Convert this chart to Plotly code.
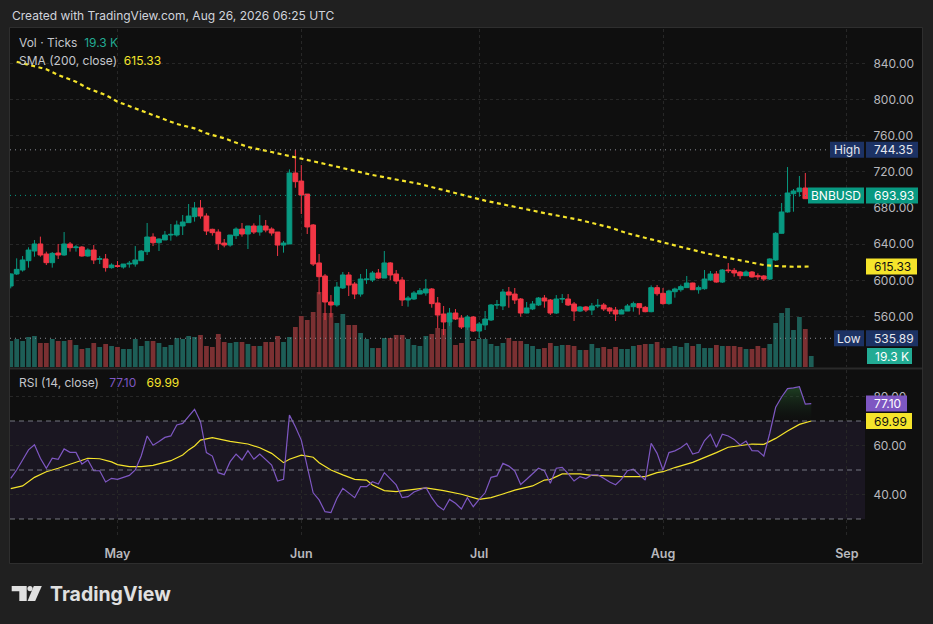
import numpy as np
import pandas as pd
import plotly.graph_objects as go

# ---------------- data ----------------
start_date = "2026-04-13"

opens = [593.7, 607.0, 611.4, 621.7, 632.4, 640.2, 629.1, 619.5, 630.2, 628.0,
         640.2, 636.1, 636.8, 626.9, 633.5, 623.2, 623.6, 614.0, 616.2, 614.7,
         618.0, 618.0, 621.7, 631.7, 647.9, 641.6, 644.6, 650.1, 650.1, 660.1,
         663.8, 670.4, 680.0, 671.1, 656.4, 653.4, 641.2, 639.0, 649.4, 656.7,
         651.2, 660.1, 653.4, 660.1, 656.7, 653.4, 639.0, 640.2, 718.7, 709.8,
         695.4, 661.2, 619.2, 604.8, 576.0, 572.7, 591.5, 605.9, 595.9, 584.8,
         600.7, 600.3, 608.1, 602.5, 619.2, 607.0, 600.3, 578.2, 579.3, 584.8,
         586.0, 590.4, 574.9, 562.7, 553.9, 563.8, 558.3, 548.3, 559.4, 543.9,
         550.6, 556.1, 572.7, 571.6, 587.1, 584.8, 579.3, 563.8, 568.3, 572.7,
         580.4, 578.2, 563.8, 579.3, 579.3, 573.8, 566.0, 570.5, 567.1, 571.6,
         572.7, 569.4, 567.1, 562.7, 566.0, 570.8, 574.2, 570.1, 565.3, 591.9,
         585.6, 574.2, 587.4, 589.6, 591.9, 597.0, 589.6, 590.7, 600.3, 607.0,
         598.1, 611.4, 611.0, 609.2, 605.1, 609.2, 605.1, 604.8, 601.4, 622.5,
         652.0, 675.6, 695.8, 698.0, 702.1, 690.3]
highs = [607.7, 624.3, 626.9, 636.5, 644.6, 648.3, 631.7, 631.3, 640.2, 653.4,
         642.4, 639.0, 637.9, 635.4, 639.0, 626.9, 629.1, 618.8, 621.4, 618.0,
         621.4, 637.9, 633.5, 663.4, 652.0, 646.4, 654.5, 662.3, 666.0, 672.2,
         684.4, 686.6, 688.8, 674.1, 657.1, 656.4, 645.7, 650.1, 658.6, 663.4,
         660.1, 663.0, 672.2, 666.7, 658.6, 653.4, 643.5, 722.7, 744.35, 727.5,
         695.4, 662.3, 629.1, 607.0, 583.7, 598.1, 609.2, 609.2, 598.1, 607.0,
         612.5, 610.3, 612.5, 632.4, 620.2, 611.4, 603.7, 582.6, 588.2, 591.5,
         601.4, 591.5, 581.5, 571.6, 569.4, 568.2, 561.6, 561.6, 560.5, 553.9,
         566.0, 573.8, 578.2, 590.4, 592.6, 591.5, 580.4, 576.0, 577.1, 581.5,
         583.7, 579.3, 583.7, 584.8, 584.8, 576.0, 571.6, 571.6, 574.9, 579.3,
         574.9, 570.5, 570.5, 568.3, 573.8, 576.4, 574.2, 571.6, 594.4, 594.8,
         591.5, 589.6, 591.9, 595.2, 604.8, 597.4, 594.1, 611.4, 610.3, 610.3,
         612.5, 619.1, 613.6, 610.3, 611.0, 610.3, 607.7, 605.9, 624.3, 653.4,
         685.5, 725.3, 701.0, 715.4, 718.7, 696.0]
lows = [591.1, 605.9, 609.6, 614.0, 626.1, 626.1, 616.9, 614.0, 623.6, 627.2,
        631.7, 631.7, 626.1, 626.1, 618.0, 618.0, 609.6, 612.9, 614.0, 612.9,
        614.0, 615.1, 621.4, 628.0, 637.9, 632.4, 644.6, 643.8, 648.3, 650.1,
        663.8, 664.9, 668.2, 650.1, 649.4, 633.5, 636.5, 637.2, 645.7, 648.3,
        634.6, 651.2, 649.4, 653.1, 649.4, 626.9, 630.6, 640.2, 702.4, 673.3,
        651.2, 615.8, 584.5, 556.1, 559.0, 570.8, 590.4, 582.6, 579.3, 581.9,
        596.0, 598.1, 601.4, 602.5, 600.3, 595.9, 571.6, 570.8, 578.2, 584.5,
        583.0, 569.7, 546.9, 539.5, 549.4, 556.1, 546.1, 545.0, 542.8, 535.89,
        545.0, 555.0, 568.2, 567.1, 569.7, 573.8, 559.8, 563.5, 567.1, 571.6,
        569.7, 561.6, 562.7, 574.9, 571.6, 555.0, 564.9, 564.9, 561.6, 569.4,
        566.0, 562.7, 555.0, 562.7, 566.0, 565.3, 562.0, 564.6, 564.6, 583.0,
        573.0, 573.0, 580.8, 587.4, 591.9, 589.3, 585.2, 589.6, 599.2, 597.4,
        597.0, 608.1, 604.0, 601.4, 605.1, 603.0, 600.3, 599.2, 600.3, 621.4,
        651.6, 674.9, 675.9, 692.5, 690.0, 688.5]
closes = [607.0, 612.1, 622.5, 633.5, 640.2, 628.0, 619.5, 629.8, 628.0, 640.2,
          636.1, 636.8, 626.9, 633.5, 622.5, 623.9, 614.0, 616.9, 615.4, 618.0,
          618.8, 622.5, 632.4, 647.9, 641.6, 645.7, 650.1, 650.8, 661.2, 664.5,
          671.1, 680.0, 671.1, 654.5, 652.7, 640.5, 639.0, 650.1, 656.7, 651.2,
          660.1, 653.4, 660.1, 655.6, 652.3, 639.0, 641.2, 718.7, 709.1, 694.3,
          659.0, 618.0, 604.0, 576.0, 572.7, 592.6, 605.9, 594.8, 584.8, 601.4,
          601.4, 608.1, 602.5, 619.2, 605.9, 599.2, 578.2, 580.4, 586.0, 588.5,
          590.4, 574.2, 561.6, 553.9, 563.8, 557.2, 548.3, 559.4, 543.9, 551.7,
          557.2, 572.7, 573.0, 587.1, 583.7, 578.2, 563.8, 569.4, 573.8, 580.4,
          577.1, 563.8, 579.3, 579.7, 572.7, 566.0, 570.5, 567.1, 571.6, 572.3,
          568.3, 566.0, 562.7, 567.1, 571.6, 574.2, 569.7, 565.3, 591.9, 585.2,
          574.2, 588.2, 590.4, 593.0, 597.0, 589.6, 591.9, 601.4, 607.0, 598.1,
          611.4, 610.7, 608.1, 605.1, 609.2, 603.7, 604.0, 601.4, 623.6, 652.0,
          675.6, 696.6, 698.8, 702.1, 690.3, 693.93]
volumes_k = [45.6, 49.1, 45.6, 52.7, 54.4, 42.1, 42.1, 49.1, 45.6, 45.6,
             47.4, 38.6, 31.6, 33.3, 42.1, 35.1, 40.4, 36.9, 35.1, 31.6,
             31.6, 49.1, 36.9, 45.6, 45.6, 42.1, 35.1, 38.6, 50.9, 49.1,
             54.4, 52.7, 56.2, 36.9, 35.1, 57.9, 43.9, 42.1, 43.9, 43.9,
             40.4, 36.9, 36.9, 43.9, 43.9, 54.4, 43.9, 52.7, 70.2, 89.5,
             82.5, 96.5, 131.6, 94.8, 94.8, 77.2, 93.0, 73.7, 73.7, 59.7,
             49.1, 33.3, 33.3, 50.9, 50.9, 56.2, 56.2, 49.1, 38.6, 36.9,
             54.4, 57.9, 68.4, 66.7, 79.0, 38.6, 42.1, 70.2, 45.6, 49.1,
             49.1, 40.4, 36.9, 42.1, 50.9, 45.6, 45.6, 40.4, 36.9, 31.6,
             33.3, 42.1, 36.9, 38.6, 38.6, 36.9, 29.8, 29.8, 40.4, 33.3,
             35.1, 31.6, 35.1, 31.6, 31.6, 36.9, 38.6, 40.4, 40.4, 43.9,
             33.3, 33.3, 36.9, 35.1, 42.1, 36.9, 40.4, 33.3, 33.3, 38.6,
             36.9, 36.9, 36.9, 35.1, 31.6, 31.6, 36.9, 33.3, 40.4, 77.2,
             94.8, 103.5, 64.9, 87.8, 66.7, 19.3]

sma_idx = [1, 3, 6, 8, 11, 13, 16, 18, 21, 23, 26, 28, 31, 33, 36, 40, 44, 48,
           53, 61, 66, 69, 80, 85, 90, 96, 101, 104, 108, 113, 117, 121, 125,
           127, 129, 132, 135]
sma_val = [841.8, 838.2, 833.4, 827.1, 819.7, 812.4, 805.0, 797.6, 790.3, 784.7,
           778.1, 772.9, 768.1, 762.6, 757.1, 747.5, 741.9, 736.4, 728.7, 716.5,
           709.8, 706.5, 688.1, 681.1, 674.4, 666.7, 658.6, 652.0, 645.4, 636.9,
           630.3, 624.8, 619.3, 616.9, 615.8, 615.0, 615.33]

rsi = [46.6, 50.0, 54.1, 58.2, 60.3, 54.8, 50.7, 54.8, 54.4, 58.6,
       57.2, 57.2, 52.4, 54.1, 49.7, 49.7, 45.1, 46.6, 46.2, 47.0,
       47.8, 50.0, 55.7, 63.9, 60.1, 61.6, 63.3, 63.9, 68.4, 69.0,
       71.8, 74.8, 69.7, 57.1, 55.7, 48.9, 48.1, 53.4, 56.5, 54.1,
       57.9, 54.4, 56.5, 54.1, 52.0, 45.5, 46.2, 72.4, 67.7, 62.2,
       51.4, 40.7, 37.8, 33.0, 32.6, 38.4, 42.5, 40.5, 38.7, 43.2,
       43.2, 45.2, 44.3, 48.9, 46.2, 43.9, 38.7, 39.1, 41.0, 41.8,
       42.9, 38.7, 35.4, 33.7, 38.0, 36.4, 34.1, 38.7, 35.0, 38.0,
       40.7, 47.0, 47.6, 52.7, 51.6, 49.6, 44.1, 46.2, 48.5, 50.7,
       49.7, 44.6, 50.7, 51.1, 48.5, 45.5, 47.3, 46.5, 48.0, 48.0,
       46.6, 45.1, 44.0, 46.3, 49.7, 50.3, 48.0, 45.9, 60.9, 56.8,
       50.0, 57.1, 57.8, 59.1, 60.9, 56.5, 57.2, 62.0, 64.6, 59.3,
       64.6, 63.9, 62.5, 60.2, 61.8, 57.9, 57.8, 55.7, 65.0, 75.6,
       79.8, 83.2, 83.5, 84.0, 76.9, 77.10]

rsi_ma_idx = [0, 2, 4, 6, 8, 10, 12, 13, 15, 17, 18, 20, 22, 24, 27, 29, 30, 31,
              32, 34, 37, 40, 42, 44, 46, 47, 49, 51, 52, 54, 56, 58, 60, 61, 63,
              65, 67, 70, 73, 76, 79, 81, 83, 85, 88, 90, 91, 93, 96, 98, 101,
              103, 107, 109, 110, 112, 115, 118, 119, 121, 123, 125, 127, 129,
              131, 133, 135]
rsi_ma_val = [42.4, 43.5, 47.0, 49.3, 50.7, 52.4, 54.1, 54.8, 54.6, 53.3, 52.2,
              51.4, 51.4, 51.9, 53.8, 56.1, 58.2, 59.8, 62.2, 63.2, 61.7, 60.6,
              59.1, 56.8, 53.0, 54.4, 56.1, 55.2, 53.0, 50.0, 48.0, 46.2, 45.9,
              43.9, 41.6, 41.2, 41.8, 42.7, 41.6, 40.1, 38.0, 38.7, 40.2, 41.8,
              43.5, 45.9, 46.2, 48.4, 48.4, 47.8, 47.6, 47.3, 47.3, 48.9, 49.3,
              51.0, 53.1, 56.0, 57.1, 59.3, 59.8, 60.6, 60.5, 62.9, 65.9, 68.6,
              69.99]

month_ticks = ["2026-05-01", "2026-06-01", "2026-07-01", "2026-08-01", "2026-09-01"]
month_labels = ["May", "Jun", "Jul", "Aug", "Sep"]
price_ticks = [560, 600, 640, 680, 720, 760, 800, 840]
rsi_ticks = [40, 60, 80]
rsi_levels = [30, 50, 70]

# ---------------- styling / geometry ----------------
W, H = 933, 624
ML, MR, MT, MB = 10, 68, 29, 87
PW, PH = W - ML - MR, H - MT - MB

def px_x(px):
    return (px - ML) / PW

def px_y(py):
    return (H - MB - py) / PH

TEAL = "#089981"
RED = "#f23645"
VOL_TEAL = "#1d5e57"
VOL_RED = "#7b3032"
YELLOW = "#f5e42b"
PURPLE = "#7e57c2"
GRID = "#272727"
AXTXT = "#b8b8bd"
FONT = "Inter, Roboto, sans-serif"

dates = pd.date_range(start_date, periods=len(closes), freq="D")
sma_dates = dates[sma_idx]
ma_dates = dates[rsi_ma_idx]
n = len(closes)

price_dom = [px_y(367), 1.0]
rsi_dom = [0.0, px_y(370)]
price_range = [504.1, 878.0]
rsi_range = [22.65, 90.82]
vol_range = [0, 593.2]
x_range = ["2026-04-12 21:00", "2026-09-04 01:30"]

vol_colors = [VOL_TEAL if c >= o else VOL_RED for o, c in zip(opens, closes)]

fig = go.Figure()

# volume (base axis y, drawn beneath the candles)
fig.add_trace(go.Bar(x=dates, y=volumes_k, marker=dict(color=vol_colors, line=dict(width=0)),
                     xaxis="x", yaxis="y", hoverinfo="skip"))

# candles
fig.add_trace(go.Candlestick(
    x=dates, open=opens, high=highs, low=lows, close=closes,
    increasing=dict(line=dict(color=TEAL, width=1), fillcolor=TEAL),
    decreasing=dict(line=dict(color=RED, width=1), fillcolor=RED),
    whiskerwidth=0, xaxis="x", yaxis="y2", hoverinfo="skip"))

# SMA 200
fig.add_trace(go.Scatter(x=sma_dates, y=sma_val, mode="lines", xaxis="x", yaxis="y2",
                         line=dict(color=YELLOW, width=2.2, dash="4px,3.5px"), hoverinfo="skip"))

# RSI overbought fill
ob_top = np.maximum(np.array(rsi), 70)
fig.add_trace(go.Scatter(x=dates, y=[70] * n, mode="lines", line=dict(width=0),
                         xaxis="x2", yaxis="y3", hoverinfo="skip"))
fig.add_trace(go.Scatter(x=dates, y=ob_top, mode="lines", line=dict(width=0),
                         fill="tonexty",
                         fillgradient=dict(type="vertical",
                                           colorscale=[[0, "rgba(20,45,28,0.0)"],
                                                       [1, "rgba(48,120,56,0.6)"]],
                                           start=70, stop=86),
                         xaxis="x2", yaxis="y3", hoverinfo="skip"))
# RSI + MA
fig.add_trace(go.Scatter(x=ma_dates, y=rsi_ma_val, mode="lines", xaxis="x2", yaxis="y3",
                         line=dict(color=YELLOW, width=1.2), hoverinfo="skip"))
fig.add_trace(go.Scatter(x=dates, y=rsi, mode="lines", xaxis="x2", yaxis="y3",
                         line=dict(color=PURPLE, width=1.2), hoverinfo="skip"))

shapes = []
# outer chart frame
shapes.append(dict(type="rect", xref="paper", yref="paper", x0=px_x(9.5), x1=px_x(922.5),
                   y0=px_y(563.5), y1=px_y(27.5), fillcolor="#0f0f0f",
                   line=dict(color="#2e2e2e", width=1), layer="below"))
# pane separator
shapes.append(dict(type="line", xref="paper", yref="paper", x0=px_x(10), x1=px_x(922),
                   y0=px_y(368.5), y1=px_y(368.5), line=dict(color="#2a2a2a", width=2), layer="above"))
# RSI band and levels
shapes.append(dict(type="rect", xref="x2 domain", yref="y3", x0=0, x1=1, y0=30, y1=70,
                   fillcolor="rgba(126,87,194,0.10)", line=dict(width=0), layer="below"))
for lv in rsi_levels:
    shapes.append(dict(type="line", xref="x2 domain", yref="y3", x0=0, x1=1, y0=lv, y1=lv,
                       line=dict(color="rgba(135,138,148,0.85)", width=1, dash="5px,4px")))
# high / low / last price lines
hi, lo, last = max(highs), min(lows), closes[-1]
shapes.append(dict(type="line", xref="x domain", yref="y2", x0=0, x1=1, y0=hi, y1=hi,
                   line=dict(color="#8a8d96", width=1, dash="1px,4px")))
shapes.append(dict(type="line", xref="x domain", yref="y2", x0=0, x1=1, y0=lo, y1=lo,
                   line=dict(color="#8a8d96", width=1, dash="1px,4px")))
shapes.append(dict(type="line", xref="x domain", yref="y2", x0=0, x1=1, y0=last, y1=last,
                   line=dict(color=TEAL, width=1, dash="1px,4px")))

annotations = []

def box(yref, yval, x0, x1, color, text, tcolor, center=False):
    shapes.append(dict(type="rect", xref="paper", yref=yref, xsizemode="pixel", ysizemode="pixel",
                       xanchor=1, yanchor=yval, x0=x0, x1=x1, y0=-8, y1=8,
                       fillcolor=color, line=dict(width=0), layer="above"))
    if center:
        annotations.append(dict(x=1, xref="paper", y=yval, yref=yref, xanchor="center",
                                xshift=(x0 + x1) / 2, yanchor="middle", showarrow=False,
                                text=text, font=dict(family=FONT, size=12, color=tcolor)))
    else:
        annotations.append(dict(x=1, xref="paper", y=yval, yref=yref, xanchor="left",
                                xshift=x0 + 6, yanchor="middle", showarrow=False,
                                text=text, font=dict(family=FONT, size=12, color=tcolor)))

NAVY = "#1c3264"
box("y2", hi, -35, -1, NAVY, "High", "#e6e8ee", center=True)
box("y2", hi, 1, 53, NAVY, f"{hi:.2f}", "#e6e8ee")
box("y2", last, -57, -1, TEAL, "BNBUSD", "#ffffff", center=True)
box("y2", last, 1, 53, TEAL, f"{last:.2f}", "#ffffff")
box("y2", sma_val[-1], 1, 52, YELLOW, f"{sma_val[-1]:.2f}", "#111111")
box("y2", lo, -31, -1, NAVY, "Low", "#e6e8ee", center=True)
box("y2", lo, 1, 53, NAVY, f"{lo:.2f}", "#e6e8ee")
box("y", volumes_k[-1], 2, 47, "#22ab94", f"{volumes_k[-1]:.1f} K", "#ffffff")
box("y3", rsi[-1], 1, 42, PURPLE, f"{rsi[-1]:.2f}", "#ffffff")
box("y3", rsi_ma_val[-1], 1, 47, YELLOW, f"{rsi_ma_val[-1]:.2f}", "#111111")

# title + legends
LEG = "#c4c6cc"
annotations.append(dict(x=px_x(10), y=px_y(15), xref="paper", yref="paper", xanchor="left",
                        yanchor="middle", showarrow=False,
                        text="Created with TradingView.com, Aug 26, 2026 06:25 UTC",
                        font=dict(family=FONT, size=12, color="#d1d4dc")))
annotations.append(dict(x=px_x(17), y=px_y(43), xref="paper", yref="paper", xanchor="left",
                        yanchor="middle", showarrow=False,
                        text=f"Vol · Ticks&nbsp; <span style='color:#22ab94'>{volumes_k[-1]:.1f} K</span>",
                        font=dict(family=FONT, size=12, color=LEG)))
annotations.append(dict(x=px_x(17), y=px_y(60), xref="paper", yref="paper", xanchor="left",
                        yanchor="middle", showarrow=False,
                        text=f"SMA (200, close)&nbsp; <span style='color:{YELLOW}'>{sma_val[-1]:.2f}</span>",
                        font=dict(family=FONT, size=12, color=LEG)))
annotations.append(dict(x=px_x(17), y=px_y(382.5), xref="paper", yref="paper", xanchor="left",
                        yanchor="middle", showarrow=False,
                        text=(f"RSI (14, close)&nbsp;&nbsp; <span style='color:{PURPLE}'>{rsi[-1]:.2f}</span>"
                              f"&nbsp;&nbsp; <span style='color:{YELLOW}'>{rsi_ma_val[-1]:.2f}</span>"),
                        font=dict(family=FONT, size=12, color=LEG)))

# TradingView watermark logo
def pth(pts):
    return "M " + " L ".join(f"{px_x(a):.5f},{px_y(b):.5f}" for a, b in pts) + " Z"

LOGO = "#e0e0e0"
shapes.append(dict(type="path", xref="paper", yref="paper",
                   path=pth([(11.7, 586), (26.7, 586), (26.7, 601), (19.3, 601), (19.3, 591.3), (11.7, 591.3)]),
                   fillcolor=LOGO, line=dict(width=0)))
shapes.append(dict(type="circle", xref="paper", yref="paper", x0=px_x(27.4), x1=px_x(32.6),
                   y0=px_y(591.2), y1=px_y(586), fillcolor=LOGO, line=dict(width=0)))
shapes.append(dict(type="path", xref="paper", yref="paper",
                   path=pth([(33.8, 586), (41.8, 586), (35.2, 601), (27.6, 601)]),
                   fillcolor=LOGO, line=dict(width=0)))
annotations.append(dict(x=px_x(48), y=px_y(594), xref="paper", yref="paper", xanchor="left",
                        yanchor="middle", showarrow=False, text="TradingView",
                        font=dict(family=FONT, size=19.5, color=LOGO, weight=700)))

axis_font = dict(family=FONT, size=12, color=AXTXT)

fig.update_layout(
    width=W, height=H, margin=dict(l=ML, r=MR, t=MT, b=MB, pad=0),
    paper_bgcolor="#202020", plot_bgcolor="#0f0f0f",
    showlegend=False, bargap=0.2, boxgap=0.2, boxgroupgap=0,
    hovermode=False,
    xaxis=dict(domain=[0, 1], anchor="y", range=x_range, type="date",
               tickvals=month_ticks, showticklabels=False, ticks="",
               showgrid=True, gridcolor=GRID, griddash="dot", zeroline=False,
               showline=False, rangeslider=dict(visible=False)),
    xaxis2=dict(domain=[0, 1], anchor="y3", matches="x", type="date",
                tickvals=month_ticks, ticktext=month_labels, ticks="outside", ticklen=0,
                ticklabelstandoff=5,
                tickfont=dict(family=FONT, size=12.5, color=AXTXT, weight=600),
                showgrid=True, gridcolor=GRID, griddash="dot", zeroline=False, showline=False),
    yaxis=dict(domain=price_dom, anchor="x", range=vol_range, visible=False, showgrid=False),
    yaxis2=dict(domain=price_dom, anchor="x", overlaying="y", side="right", range=price_range,
                tickvals=price_ticks, ticktext=[f"{v:.2f}" for v in price_ticks],
                ticks="outside", ticklen=0, ticklabelstandoff=5, tickfont=axis_font,
                showgrid=True, gridcolor=GRID, griddash="dot", zeroline=False, showline=False),
    yaxis3=dict(domain=rsi_dom, anchor="x2", side="right", range=rsi_range,
                tickvals=rsi_ticks, ticktext=[f"{v:.2f}" for v in rsi_ticks],
                ticks="outside", ticklen=0, ticklabelstandoff=5, tickfont=axis_font,
                showgrid=True, gridcolor=GRID, griddash="dot", zeroline=False, showline=False),
    shapes=shapes, annotations=annotations,
)

fig.write_html("out.html", config={"displayModeBar": False},
               post_script="document.body.style.margin='0';document.body.style.background='#202020';")
